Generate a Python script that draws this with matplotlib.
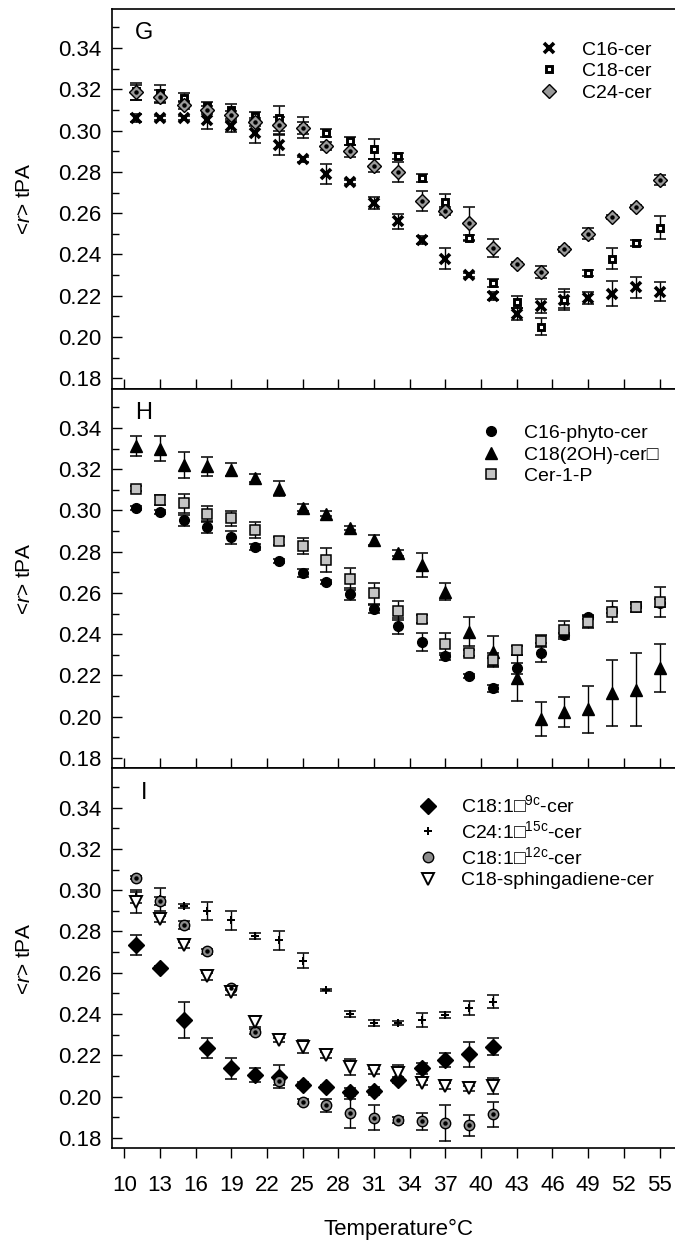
import numpy as np
import matplotlib
matplotlib.use('Agg')
import matplotlib.pyplot as plt
from matplotlib.ticker import MultipleLocator

plt.rcParams['font.family'] = ['Liberation Sans', 'DejaVu Sans']
plt.rcParams['mathtext.fontset'] = 'custom'
plt.rcParams['mathtext.rm'] = 'Liberation Sans'
plt.rcParams['mathtext.it'] = 'Liberation Sans:italic'

# temperatures (deg C)
temps = [11, 13, 15, 17, 19, 21, 23, 25, 27, 29, 31, 33, 35, 37, 39, 41, 43, 45, 47, 49, 51, 53, 55]
temps_i = temps[:16]

# panel G
c16 = [0.306, 0.306, 0.306, 0.305, 0.302, 0.299, 0.293, 0.286, 0.279, 0.275, 0.265, 0.256,
       0.247, 0.238, 0.230, 0.220, 0.211, 0.215, 0.218, 0.219, 0.221, 0.224, 0.222]
c16_err = [0.002, 0.001, 0.001, 0.004, 0.0025, 0.005, 0.005, 0.001, 0.005, 0.001, 0.003, 0.0035,
           0.002, 0.005, 0.001, 0.002, 0.003, 0.0035, 0.004, 0.003, 0.006, 0.005, 0.0047]
c18 = [0.319, 0.318, 0.316, 0.312, 0.310, 0.307, 0.306, 0.3015, 0.299, 0.295, 0.291, 0.2875,
       0.277, 0.2655, 0.248, 0.226, 0.217, 0.205, 0.218, 0.231, 0.238, 0.2455, 0.253]
c18_err = [0.004, 0.004, 0.002, 0.002, 0.003, 0.002, 0.006, 0.005, 0.002, 0.002, 0.005, 0.0015,
           0.002, 0.0037, 0.0015, 0.002, 0.003, 0.004, 0.005, 0.0015, 0.005, 0.0015, 0.0055]
c24 = [0.3185, 0.3165, 0.3125, 0.310, 0.3075, 0.304, 0.3025, 0.3013, 0.2925, 0.290, 0.283, 0.280,
       0.2658, 0.261, 0.255, 0.243, 0.2352, 0.2316, 0.2424, 0.250, 0.258, 0.263, 0.276]
c24_err = [0.0035, 0.003, 0.002, 0.002, 0.002, 0.002, 0.004, 0.003, 0.002, 0.003, 0.003, 0.005,
           0.005, 0.002, 0.008, 0.0045, 0.001, 0.003, 0.001, 0.0027, 0.001, 0.001, 0.0025]

# panel H
phyto = [0.3013, 0.2994, 0.2953, 0.2918, 0.2869, 0.2821, 0.2755, 0.2698, 0.2655, 0.2595, 0.2521, 0.244,
         0.2361, 0.2292, 0.2198, 0.2139, 0.2235, 0.2311, 0.2397, 0.2485, 0.2513, 0.2537, 0.2553]
phyto_err = [0.001, 0.001, 0.0027, 0.0026, 0.003, 0.0015, 0.001, 0.002, 0.001, 0.0027, 0.002, 0.004,
             0.0043, 0.0018, 0.001, 0.0017, 0.0026, 0.0045, 0.001, 0.001, 0.001, 0.001, 0.002]
oh = [0.3311, 0.330, 0.3219, 0.3214, 0.3198, 0.3158, 0.3106, 0.3014, 0.2985, 0.2913, 0.2856, 0.2792,
      0.2735, 0.2606, 0.2413, 0.2316, 0.2187, 0.1989, 0.2021, 0.2037, 0.2114, 0.213, 0.2235]
oh_err = [0.0048, 0.006, 0.0064, 0.0047, 0.003, 0.002, 0.0038, 0.0018, 0.001, 0.001, 0.0026, 0.0015,
          0.006, 0.004, 0.0069, 0.0074, 0.011, 0.0083, 0.0073, 0.0114, 0.016, 0.0177, 0.0117]
c1p = [0.3106, 0.305, 0.3034, 0.2985, 0.2961, 0.2905, 0.2853, 0.2829, 0.276, 0.2668, 0.2598, 0.2514,
       0.2474, 0.2353, 0.2308, 0.2276, 0.2321, 0.2368, 0.2421, 0.2458, 0.251, 0.2534, 0.2558]
c1p_err = [0.001, 0.0024, 0.0045, 0.0034, 0.0038, 0.0039, 0.002, 0.0039, 0.0058, 0.0054, 0.005, 0.0047,
           0.0018, 0.0052, 0.0015, 0.0032, 0.0024, 0.003, 0.0045, 0.003, 0.0052, 0.0024, 0.0073]

# panel I
d9 = [0.2736, 0.2622, 0.2371, 0.2234, 0.2136, 0.2104, 0.2096, 0.2055, 0.2047, 0.2023, 0.2028, 0.208,
      0.2136, 0.2177, 0.2204, 0.2242]
d9_err = [0.0049, 0.001, 0.0087, 0.0049, 0.0049, 0.0036, 0.0055, 0.0015, 0.001, 0.002, 0.002, 0.0015,
          0.0028, 0.0036, 0.0062, 0.0042]
d15 = [0.2965, 0.2955, 0.2922, 0.290, 0.2854, 0.278, 0.2757, 0.2658, 0.2517, 0.240, 0.2355, 0.2358,
       0.2371, 0.2396, 0.2428, 0.246]
d15_err = [0.0025, 0.0055, 0.001, 0.0043, 0.0045, 0.0015, 0.0045, 0.0036, 0.0005, 0.0013, 0.0015, 0.001,
           0.0032, 0.0015, 0.0034, 0.0032]
d12 = [0.306, 0.2946, 0.2833, 0.2703, 0.2525, 0.2315, 0.2077, 0.1974, 0.1958, 0.1918, 0.1898, 0.1885,
       0.188, 0.1872, 0.1861, 0.1913]
d12_err = [0.0008, 0.002, 0.002, 0.001, 0.001, 0.001, 0.002, 0.0012, 0.0032, 0.0069, 0.006, 0.0015,
           0.0042, 0.0087, 0.005, 0.0062]
sph = [0.2945, 0.286, 0.2733, 0.2582, 0.2509, 0.2363, 0.2274, 0.2242, 0.2201, 0.2144, 0.2123, 0.2115,
       0.2067, 0.2051, 0.2039, 0.2052]
sph_err = [0.0055, 0.0015, 0.0015, 0.0015, 0.0015, 0.0025, 0.001, 0.0032, 0.0015, 0.004, 0.0012, 0.004,
           0.0013, 0.0015, 0.001, 0.004]

xticks = [10, 13, 16, 19, 22, 25, 28, 31, 34, 37, 40, 43, 46, 49, 52, 55]


def series(ax, x, y, err, label, dot=False, **kw):
    ax.errorbar(x, y, yerr=err, fmt='none', ecolor='black', elinewidth=1,
                capsize=4.5, capthick=1.1, zorder=2)
    h, = ax.plot(x, y, linestyle='none', label=label, zorder=3, **kw)
    if dot:
        ax.plot(x, y, linestyle='none', marker='o', ms=2.2, color='black', zorder=4)
    return h


fig = plt.figure(figsize=(6.75, 12.43), dpi=100)
left, width, ph = 0.1664, 0.8336, 0.30555
axG = fig.add_axes([left, 0.07619 + 2 * ph, width, ph])
axH = fig.add_axes([left, 0.07619 + ph, width, ph])
axI = fig.add_axes([left, 0.07619, width, ph])

series(axG, temps, c16, c16_err, 'C16-cer', marker='x', ms=7, mew=2.6, color='black')
series(axG, temps, c18, c18_err, 'C18-cer', marker='s', ms=4.6, mew=2.1,
       mfc='white', mec='black')
series(axG, temps, c24, c24_err, 'C24-cer', dot=True, marker='D', ms=7, mew=1,
       mfc='#9a9a9a', mec='black')

series(axH, temps, phyto, phyto_err, 'C16-phyto-cer', marker='o', ms=7, color='black')
series(axH, temps, oh, oh_err, 'C18(2OH)-cer\u25a1', marker='^', ms=8.5, color='black')
series(axH, temps, c1p, c1p_err, 'Cer-1-P', marker='s', ms=7, mew=1.1,
       mfc='#c4c4c4', mec='black')

series(axI, temps_i, d9, d9_err, r'C18:1' + '\u25a1' + r'$^{\mathregular{9c}}$-cer',
       marker='D', ms=8, color='black')
series(axI, temps_i, d15, d15_err, r'C24:1' + '\u25a1' + r'$^{\mathregular{15c}}$-cer',
       marker='P', ms=6, color='black', mew=0)
series(axI, temps_i, d12, d12_err, r'C18:1' + '\u25a1' + r'$^{\mathregular{12c}}$-cer', dot=True,
       marker='o', ms=7.5, mew=1, mfc='#8c8c8c', mec='black')
series(axI, temps_i, sph, sph_err, 'C18-sphingadiene-cer', marker='v', ms=8, mew=1.4,
       mfc='white', mec='black')

for ax, letter in [(axG, 'G'), (axH, 'H'), (axI, 'I')]:
    ax.set_xlim(9.0, 56.3)
    ax.set_ylim(0.1749, 0.3590)
    ax.set_xticks(xticks)
    ax.yaxis.set_major_locator(MultipleLocator(0.02))
    ax.yaxis.set_minor_locator(MultipleLocator(0.01))
    ax.set_yticks([0.18, 0.20, 0.22, 0.24, 0.26, 0.28, 0.30, 0.32, 0.34])
    ax.yaxis.set_major_formatter(matplotlib.ticker.FormatStrFormatter('%.2f'))
    ax.tick_params(axis='y', which='major', direction='in', length=7, width=1,
                   labelsize=16, pad=7.6)
    ax.tick_params(axis='y', which='minor', direction='in', length=5, width=1)
    ax.spines['right'].set_visible(False)
    for s in ['left', 'bottom', 'top']:
        ax.spines[s].set_linewidth(1.2)
    ax.set_ylabel('<$\\mathit{r}$> tPA', fontsize=15)
    ax.yaxis.set_label_coords(-0.139, 0.5)
    ax.text(0.0563, 0.965, letter, transform=ax.transAxes, fontsize=17,
            ha='center', va='top')

for ax in (axG, axH):
    ax.tick_params(axis='x', direction='inout', length=14, width=1, labelbottom=False)
axI.tick_params(axis='x', direction='out', length=7, width=1, labelsize=16, pad=12)

legkw = dict(loc='upper left', frameon=False, fontsize=14, borderpad=0, borderaxespad=0,
             handlelength=1.0, handletextpad=1.2, labelspacing=0.2)
axG.legend(bbox_to_anchor=(0.7588, 0.9157), **legkw)
axH.legend(bbox_to_anchor=(0.6552, 0.906), **legkw)
axI.legend(bbox_to_anchor=(0.5438, 0.9316), **legkw)

fig.text(398 / 675, 1 - 1229 / 1243, 'Temperature\u00b0C', fontsize=16, ha='center', va='center')

fig.savefig('out.png', dpi=100)
